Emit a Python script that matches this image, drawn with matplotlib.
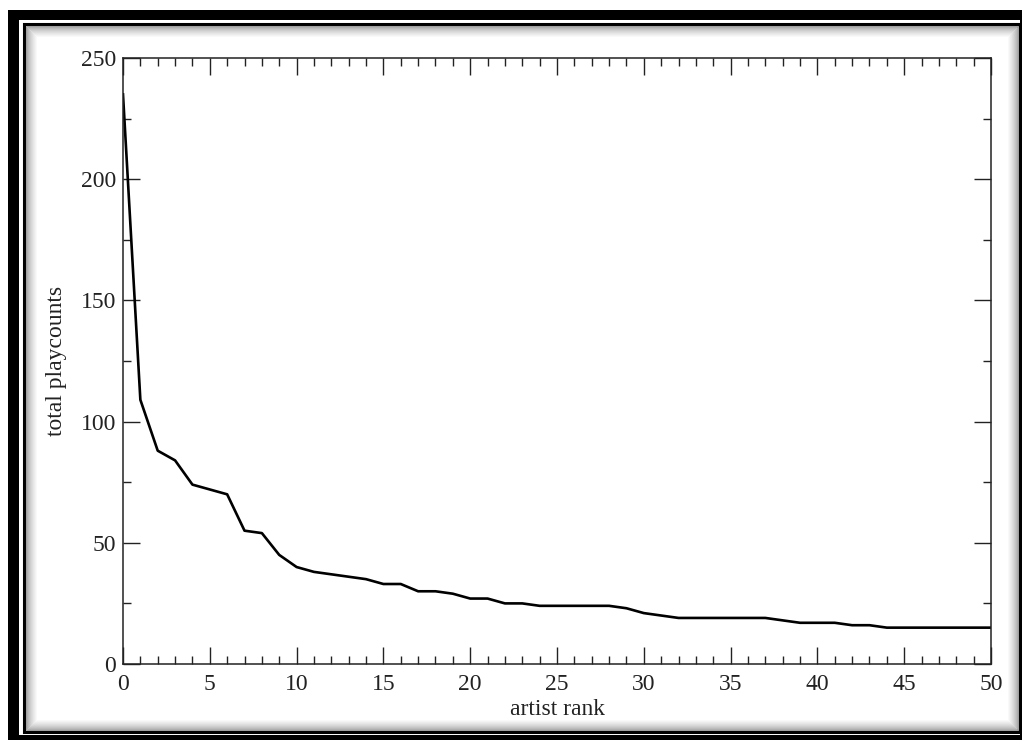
import numpy as np
import matplotlib
matplotlib.use("Agg")
import matplotlib.pyplot as plt
from matplotlib.patches import Rectangle
from matplotlib.ticker import MultipleLocator

# artist rank vs total playcounts
rank = list(range(0, 51))
playcounts = [235, 109, 88, 84, 74, 72, 70, 55, 54, 45,
              40, 38, 37, 36, 35, 33, 33, 30, 30, 29,
              27, 27, 25, 25, 24, 24, 24, 24, 24, 23,
              21, 20, 19, 19, 19, 19, 19, 19, 18, 17,
              17, 17, 16, 16, 15, 15, 15, 15, 15, 15, 15]

plt.rcParams['font.family'] = ['Liberation Serif', 'DejaVu Serif']

W, H = 1022, 740
fig = plt.figure(figsize=(W / 100, H / 100), dpi=100)

# decorative frame drawn in pixel coords on a background axes
bg = fig.add_axes([0, 0, 1, 1], zorder=-10)
bg.set_xlim(0, W)
bg.set_ylim(H, 0)
bg.axis('off')
bg.add_patch(Rectangle((8, 10), W + 20, H + 20, facecolor='black', edgecolor='none'))
bg.add_patch(Rectangle((19, 20), 1001, 715, facecolor='white', edgecolor='none'))
bg.add_patch(Rectangle((23.5, 23.5), 994, 708, facecolor='none', edgecolor='black', lw=2.2))
# inner shadow
n = 12
for i in range(n):
    g = 0.5 + 0.5 * ((i + 1) / n) ** 0.55
    inset = 25.5 + i
    bg.add_patch(Rectangle((inset, inset), 1016 - 2 * inset + 25.5 + 1.5, 730 - 2 * inset + 25.5,
                           facecolor='none', edgecolor=(g, g, g), lw=0.75))

ax = fig.add_axes([123 / W, 1 - 664 / H, (991 - 123) / W, (664 - 58) / H])
ax.plot(rank, playcounts, color='black', lw=1.9)

ax.set_xlim(0, 50)
ax.set_ylim(0, 250)
ax.xaxis.set_major_locator(MultipleLocator(5))
ax.xaxis.set_minor_locator(MultipleLocator(1))
ax.yaxis.set_major_locator(MultipleLocator(50))
ax.yaxis.set_minor_locator(MultipleLocator(25))
ax.tick_params(which='both', direction='in', top=True, right=True, width=1.0, colors='#222222',
               labelcolor='#222222')
ax.tick_params(which='major', length=12, labelsize=17)
ax.tick_params(which='minor', length=6)
ax.tick_params(axis='x', which='major', pad=7)
ax.tick_params(axis='y', which='major', pad=5)
for s in ax.spines.values():
    s.set_linewidth(1.1)
    s.set_color('#222222')

ax.set_xlabel('artist rank', fontsize=17, labelpad=3, color='#222222')
ax.set_ylabel('total playcounts', fontsize=17, labelpad=10, color='#222222')

fig.savefig('out.png', dpi=100)
